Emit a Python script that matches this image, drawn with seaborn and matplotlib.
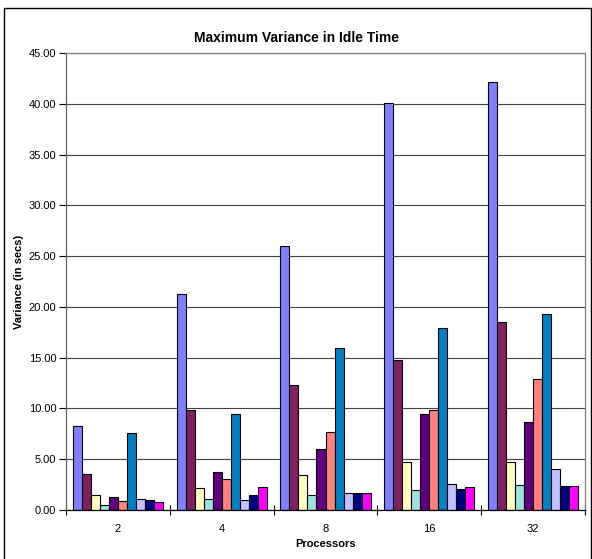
import matplotlib
matplotlib.use("Agg")
import matplotlib.pyplot as plt
import seaborn as sns
import pandas as pd
from matplotlib.patches import Rectangle
from matplotlib.ticker import FormatStrFormatter, MultipleLocator

processors = ["2", "4", "8", "16", "32"]
series_names = ["S1", "S2", "S3", "S4", "S5", "S6", "S7", "S8", "S9", "S10"]
values = {
    "S1": [8.3, 21.3, 26.0, 40.1, 42.1],
    "S2": [3.5, 9.8, 12.3, 14.8, 18.5],
    "S3": [1.5, 2.2, 3.45, 4.7, 4.7],
    "S4": [0.5, 1.05, 1.5, 2.0, 2.45],
    "S5": [1.25, 3.75, 6.05, 9.5, 8.65],
    "S6": [0.9, 3.1, 7.7, 9.85, 12.9],
    "S7": [7.6, 9.45, 16.0, 17.9, 19.3],
    "S8": [1.05, 0.95, 1.65, 2.6, 4.0],
    "S9": [1.0, 1.5, 1.7, 2.05, 2.4],
    "S10": [0.8, 2.25, 1.68, 2.27, 2.4],
}
colors = ["#8080FF", "#802060", "#FFFFC0", "#A0E0E0", "#600080",
          "#FF8080", "#0080C0", "#C0C0FF", "#000080", "#FF00FF"]

rows = []
for s in series_names:
    for p, v in zip(processors, values[s]):
        rows.append({"Processors": p, "Series": s, "Value": v})
df = pd.DataFrame(rows)

sns.set_style("white")
plt.rcParams["font.family"] = ["Liberation Sans", "DejaVu Sans"]
plt.rcParams["text.color"] = "black"
plt.rcParams["axes.labelcolor"] = "black"
plt.rcParams["xtick.color"] = "black"
plt.rcParams["ytick.color"] = "black"

fig = plt.figure(figsize=(5.92, 5.59), dpi=100)
ax = fig.add_axes([66/592, 1-510/559, (585-66)/592, (510-53)/559])

sns.barplot(data=df, x="Processors", y="Value", hue="Series", order=processors,
            hue_order=series_names, palette=colors, width=0.87, ax=ax,
            edgecolor="black", linewidth=0.8, legend=False, saturation=1)

ax.set_ylim(0, 45)
ax.set_xlim(-0.5, 4.5)
ax.yaxis.set_major_locator(MultipleLocator(5))
ax.yaxis.set_major_formatter(FormatStrFormatter("%.2f"))
ax.grid(axis="y", color="#404040", linewidth=0.8)
ax.set_axisbelow(True)
for sp in ax.spines.values():
    sp.set_color("black")
    sp.set_linewidth(0.9)
ax.spines["left"].set_color("#606060")
ax.spines["right"].set_color("#808080")
ax.spines["top"].set_color("#808080")

ax.tick_params(axis="y", which="major", direction="out", length=5, width=0.8,
               labelsize=8, left=True, pad=2)
ax.tick_params(axis="x", which="major", length=0, labelsize=8, pad=10)
ax.set_xticks([-0.5, 0.5, 1.5, 2.5, 3.5, 4.5], minor=True)
ax.tick_params(axis="x", which="minor", direction="inout", length=7, width=0.8, bottom=True)

ax.set_xlabel("Processors", fontsize=8, fontweight="bold", labelpad=4)
ax.set_ylabel("Variance (in secs)", fontsize=8, fontweight="bold", labelpad=3)
fig.text(297/592, 1-38/559, "Maximum Variance in Idle Time", ha="center", va="center",
         fontsize=10, fontweight="bold")

fig.patches.append(Rectangle((3.5/592, -0.05), (590.5-3.5)/592, 1.05 - 8/559,
                             transform=fig.transFigure, fill=False,
                             edgecolor="black", linewidth=1))

fig.savefig("out.png", dpi=100)
